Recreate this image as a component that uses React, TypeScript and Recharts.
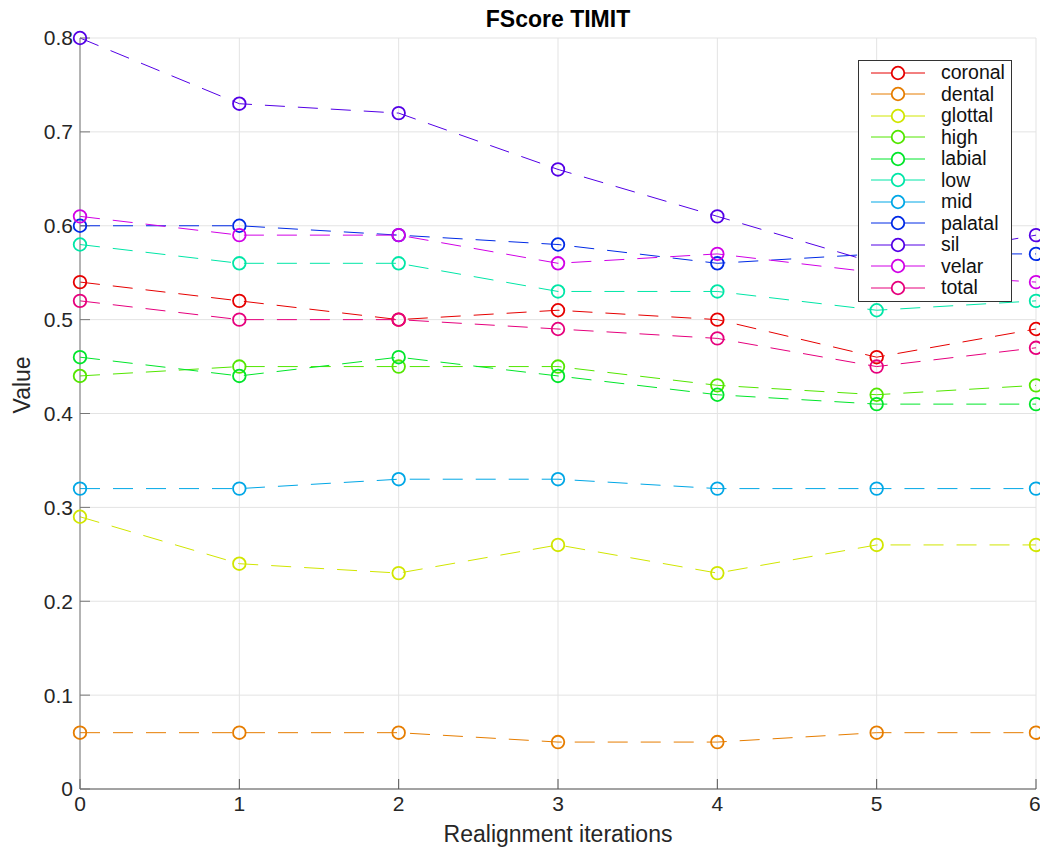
import React from "react";
import { LineChart, Line, XAxis, YAxis, CartesianGrid } from "recharts";

const iterations = [0, 1, 2, 3, 4, 5, 6];
const yTicks = [0, 0.1, 0.2, 0.3, 0.4, 0.5, 0.6, 0.7, 0.8];

const coronal = [0.54, 0.52, 0.5, 0.51, 0.5, 0.46, 0.49];
const dental = [0.06, 0.06, 0.06, 0.05, 0.05, 0.06, 0.06];
const glottal = [0.29, 0.24, 0.23, 0.26, 0.23, 0.26, 0.26];
const high = [0.44, 0.45, 0.45, 0.45, 0.43, 0.42, 0.43];
const labial = [0.46, 0.44, 0.46, 0.44, 0.42, 0.41, 0.41];
const low = [0.58, 0.56, 0.56, 0.53, 0.53, 0.51, 0.52];
const mid = [0.32, 0.32, 0.33, 0.33, 0.32, 0.32, 0.32];
const palatal = [0.6, 0.6, 0.59, 0.58, 0.56, 0.57, 0.57];
const sil = [0.8, 0.73, 0.72, 0.66, 0.61, 0.56, 0.59];
const velar = [0.61, 0.59, 0.59, 0.56, 0.57, 0.55, 0.54];
const total = [0.52, 0.5, 0.5, 0.49, 0.48, 0.45, 0.47];

const seriesNames = ["coronal", "dental", "glottal", "high", "labial", "low", "mid", "palatal", "sil", "velar", "total"];
const seriesValues = [coronal, dental, glottal, high, labial, low, mid, palatal, sil, velar, total];

// hsv(11)-like colormap
const colors = seriesNames.map((_, i) => `hsl(${(i * 360) / 11}, 100%, 45%)`);

const data = iterations.map((it, i) => {
  const row: Record<string, number> = { it };
  seriesNames.forEach((n, k) => {
    row[n] = seriesValues[k][i];
  });
  return row;
});

const font = "'Liberation Sans', Arial, Helvetica, sans-serif";

const Marker = (color: string) => (props: any) => {
  const { cx, cy } = props;
  if (cx == null || cy == null) return <g />;
  return <circle cx={cx} cy={cy} r={6.3} fill="none" stroke={color} strokeWidth={1.8} />;
};

const LegendBox = () => (
  <div
    style={{
      position: "absolute",
      top: 60,
      left: 858,
      background: "#fff",
      border: "1px solid #333",
      width: 152,
      padding: "1px 0 2px 0",
      fontFamily: font,
      fontSize: 19.5,
      lineHeight: "21px",
      color: "#111",
    }}
  >
    {seriesNames.map((n, i) => (
      <div key={n} style={{ display: "flex", alignItems: "center", height: 21.5 }}>
        <svg width={70} height={20} style={{ flex: "none" }}>
          <line x1={12} x2={66} y1={10} y2={10} stroke={colors[i]} strokeWidth={1} />
          <circle cx={39} cy={10} r={6.3} fill="#fff" stroke={colors[i]} strokeWidth={1.8} />
        </svg>
        <span style={{ marginLeft: 12 }}>{n}</span>
      </div>
    ))}
  </div>
);

const App = () => {
  return (
    <div style={{ position: "absolute", left: 0, top: 0, width: 1040, height: 850, background: "#fff" }}>
      <div
        style={{
          position: "absolute",
          top: 6,
          left: 80,
          width: 956,
          textAlign: "center",
          fontFamily: font,
          fontWeight: "bold",
          fontSize: 23,
          color: "#000",
        }}
      >
        FScore TIMIT
      </div>
      <LineChart
        width={1040}
        height={850}
        data={data}
        margin={{ top: 38, right: 4, bottom: 0, left: 0 }}
        style={{ fontFamily: font }}
      >
        <CartesianGrid stroke="#e3e3e3" strokeWidth={1} />
        <XAxis
          dataKey="it"
          type="number"
          domain={[0, 6]}
          ticks={iterations}
          height={61}
          tickSize={-10}
          tickMargin={17}
          stroke="#555"
          tick={{ fill: "#262626", fontSize: 21 }}
          label={{ value: "Realignment iterations", position: "insideBottom", offset: 8, fill: "#262626", fontSize: 23 }}
        />
        <XAxis
          xAxisId="top"
          orientation="top"
          dataKey="it"
          type="number"
          domain={[0, 6]}
          ticks={iterations}
          height={0}
          tickSize={-10}
          stroke="#262626"
          tick={() => <g />}
        />
        <YAxis
          type="number"
          domain={[0, 0.8]}
          ticks={yTicks}
          width={80}
          tickSize={-10}
          tickMargin={17}
          stroke="#777"
          tickFormatter={(v: number) => (v === 0 ? "0" : String(v))}
          tick={{ fill: "#262626", fontSize: 21 }}
          label={{ value: "Value", angle: -90, position: "insideLeft", offset: 22, fill: "#262626", fontSize: 23 }}
        />
        <YAxis
          yAxisId="right"
          orientation="right"
          type="number"
          domain={[0, 0.8]}
          ticks={yTicks}
          width={0}
          tickSize={-10}
          stroke="#333"
          tick={() => <g />}
        />
        {seriesNames.map((n, i) => (
          <Line
            key={n}
            dataKey={n}
            stroke={colors[i]}
            strokeWidth={1}
            strokeDasharray="20 13"
            dot={Marker(colors[i])}
            activeDot={false}
            isAnimationActive={false}
          />
        ))}
      </LineChart>
      <LegendBox />
    </div>
  );
};

export default App;
